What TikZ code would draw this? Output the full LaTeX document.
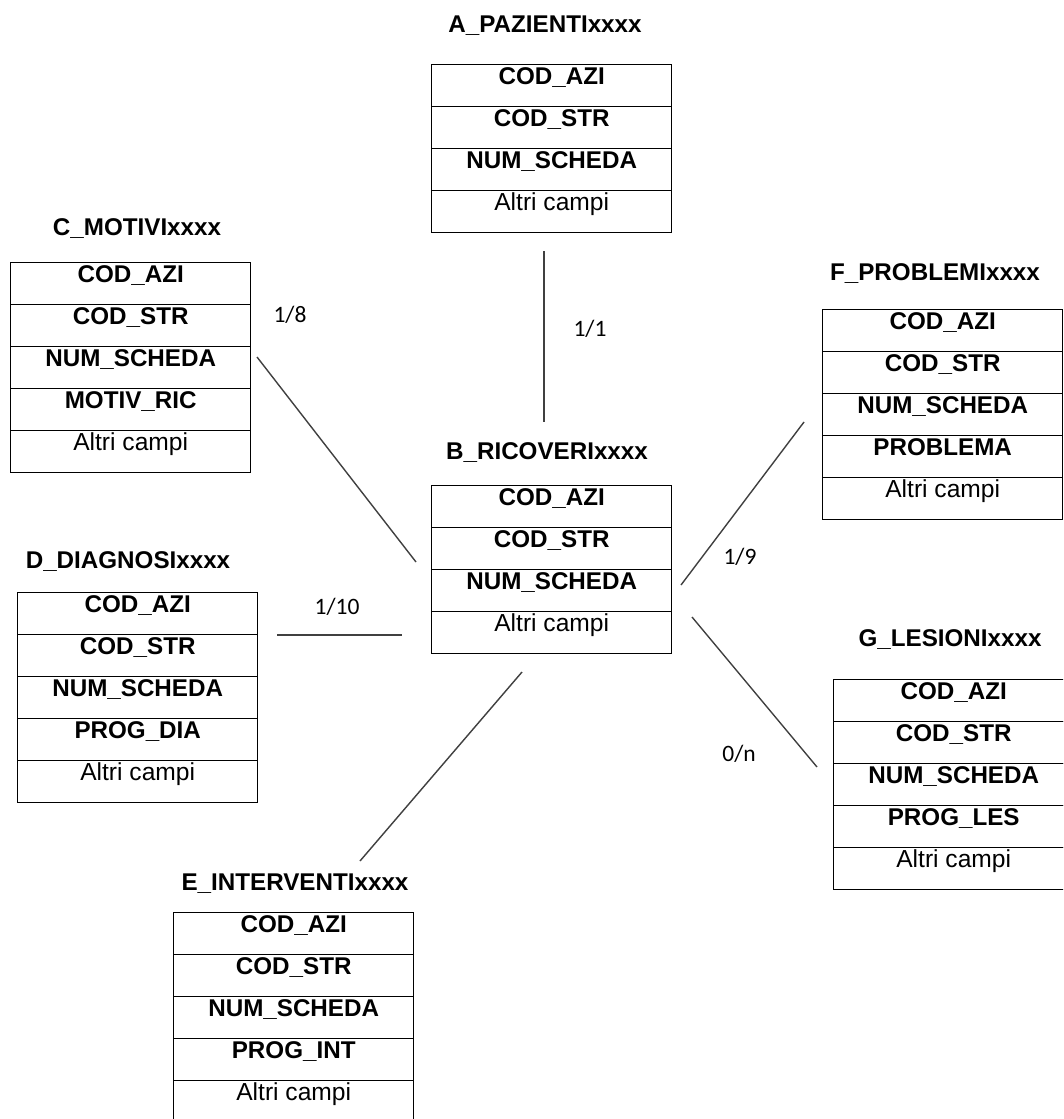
\documentclass[tikz,border=0pt]{standalone}
\usepackage{fontspec}
\setmainfont{Liberation Sans}
\newfontfamily\lblfont{Carlito}
\begin{document}
\begin{tikzpicture}[x=1pt,y=-1pt,
  field/.style={draw=black, line width=1.4pt, minimum width=240pt, minimum height=42pt,
    inner sep=0pt, text height=10pt, text depth=12pt, anchor=north west,
    font=\fontsize{24.2}{26}\selectfont\bfseries},
  other/.style={field, font=\fontsize{24.6}{26}\selectfont},
  ttl/.style={font=\fontsize{24.2}{26}\selectfont\bfseries, inner sep=0pt, anchor=base},
  card/.style={font=\lblfont\fontsize{23.5}{25}\selectfont, inner sep=0pt},
  link/.style={draw=black!75, line width=1.4pt}]
\newcommand\erTable[7]{% name, title, left, top, nfields, fields, title x/y
  \foreach \f [count=\i from 0] in {#6} {
    \node[field] (#1-\i) at (#3, #4+42*\i) {\f};
  }
  \node[other] (#1-alt) at (#3, #4+42*#5) {Altri campi};
  \node[ttl] (#1-title) at (#7) {#2};
}
\fill[white] (0,0) rectangle (1063,1119);
\clip (0,0) rectangle (1063,1119);
\useasboundingbox (0,0) rectangle (1063,1119);

\erTable{A}{A\_PAZIENTIxxxx}{431}{64}{3}{COD\_AZI,COD\_STR,NUM\_SCHEDA}{545,32}
\erTable{B}{B\_RICOVERIxxxx}{431}{485}{3}{COD\_AZI,COD\_STR,NUM\_SCHEDA}{547,459}
\erTable{C}{C\_MOTIVIxxxx}{10}{262}{4}{COD\_AZI,COD\_STR,NUM\_SCHEDA,MOTIV\_RIC}{137,235}
\erTable{D}{D\_DIAGNOSIxxxx}{17}{592}{4}{COD\_AZI,COD\_STR,NUM\_SCHEDA,PROG\_DIA}{128,568}
\erTable{E}{E\_INTERVENTIxxxx}{173}{912}{4}{COD\_AZI,COD\_STR,NUM\_SCHEDA,PROG\_INT}{295,890}
\erTable{F}{F\_PROBLEMIxxxx}{822}{309}{4}{COD\_AZI,COD\_STR,NUM\_SCHEDA,PROBLEMA}{935,280}
\erTable{G}{G\_LESIONIxxxx}{833}{679}{4}{COD\_AZI,COD\_STR,NUM\_SCHEDA,PROG\_LES}{950,646}

\coordinate (a1) at (544,251); \coordinate (a2) at (544,422);
\coordinate (c1) at (257,357); \coordinate (c2) at (416,562);
\coordinate (d1) at (277,635); \coordinate (d2) at (402,635);
\coordinate (e1) at (522,672); \coordinate (e2) at (360,861);
\coordinate (f1) at (804,422); \coordinate (f2) at (681,585);
\coordinate (g1) at (692,617); \coordinate (g2) at (817,767);

\draw[link] (a1) -- (a2);
\draw[link] (c1) -- (c2);
\draw[link] (d1) -- (d2);
\draw[link] (e1) -- (e2);
\draw[link] (f1) -- (f2);
\draw[link] (g1) -- (g2);

\node[card] (l11) at (590,329) {1/1};
\node[card] (l18) at (290,315) {1/8};
\node[card] (l110) at (337,607) {1/10};
\node[card] (l19) at (740,557) {1/9};
\node[card] (l0n) at (739,754) {0/n};
\end{tikzpicture}
\end{document}
